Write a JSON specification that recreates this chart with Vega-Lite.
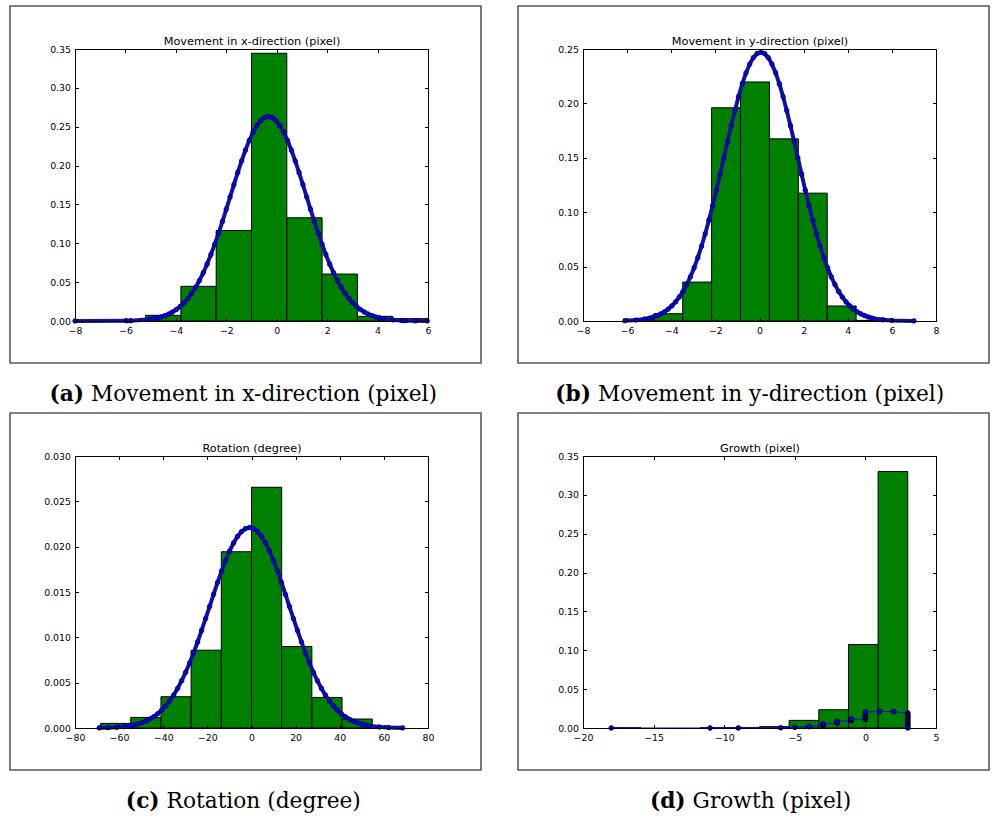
{
  "$schema": "https://vega.github.io/schema/vega-lite/v6.json",
  "background": "white",
  "padding": {"left": 9, "top": 5, "right": 0, "bottom": 0},
  "spacing": 6,
  "datasets": {
    "histA": [
      {"x0": -8, "x1": -6.6, "h": 0.0002}, {"x0": -6.6, "x1": -5.2, "h": 0.0017}, {"x0": -5.2, "x1": -3.8, "h": 0.0073},
      {"x0": -3.8, "x1": -2.4, "h": 0.0446}, {"x0": -2.4, "x1": -1.0, "h": 0.1165}, {"x0": -1.0, "x1": 0.4, "h": 0.3445},
      {"x0": 0.4, "x1": 1.8, "h": 0.1328}, {"x0": 1.8, "x1": 3.2, "h": 0.0604}, {"x0": 3.2, "x1": 4.6, "h": 0.006},
      {"x0": 4.6, "x1": 6.0, "h": 0.003}
    ],
    "curveA": [
      {"x": -8, "y": 0}, {"x": -5.96, "y": 0.0003}, {"x": -5.79, "y": 0.0004}, {"x": -5.05, "y": 0.0021},
      {"x": -4.89, "y": 0.0029}, {"x": -4.738, "y": 0.0039}, {"x": -4.586, "y": 0.0052}, {"x": -4.434, "y": 0.0069},
      {"x": -4.282, "y": 0.009}, {"x": -4.13, "y": 0.0116}, {"x": -3.978, "y": 0.0148}, {"x": -3.826, "y": 0.0187},
      {"x": -3.674, "y": 0.0234}, {"x": -3.522, "y": 0.029}, {"x": -3.37, "y": 0.0356}, {"x": -3.218, "y": 0.0433},
      {"x": -3.066, "y": 0.052}, {"x": -2.914, "y": 0.062}, {"x": -2.762, "y": 0.0731}, {"x": -2.61, "y": 0.0854},
      {"x": -2.458, "y": 0.0987}, {"x": -2.306, "y": 0.113}, {"x": -2.154, "y": 0.128}, {"x": -2.002, "y": 0.1436},
      {"x": -1.85, "y": 0.1595}, {"x": -1.698, "y": 0.1754}, {"x": -1.546, "y": 0.191}, {"x": -1.394, "y": 0.2059},
      {"x": -1.242, "y": 0.2197}, {"x": -1.09, "y": 0.2321}, {"x": -0.938, "y": 0.2428}, {"x": -0.786, "y": 0.2514},
      {"x": -0.634, "y": 0.2578}, {"x": -0.482, "y": 0.2617}, {"x": -0.33, "y": 0.263}, {"x": -0.178, "y": 0.2617},
      {"x": -0.026, "y": 0.2578}, {"x": 0.126, "y": 0.2514}, {"x": 0.278, "y": 0.2428}, {"x": 0.43, "y": 0.2321},
      {"x": 0.582, "y": 0.2197}, {"x": 0.734, "y": 0.2059}, {"x": 0.886, "y": 0.191}, {"x": 1.038, "y": 0.1754},
      {"x": 1.19, "y": 0.1595}, {"x": 1.342, "y": 0.1436}, {"x": 1.494, "y": 0.128}, {"x": 1.646, "y": 0.113},
      {"x": 1.798, "y": 0.0987}, {"x": 1.95, "y": 0.0854}, {"x": 2.102, "y": 0.0731}, {"x": 2.254, "y": 0.062},
      {"x": 2.406, "y": 0.052}, {"x": 2.558, "y": 0.0433}, {"x": 2.71, "y": 0.0356}, {"x": 2.862, "y": 0.029},
      {"x": 3.014, "y": 0.0234}, {"x": 3.166, "y": 0.0187}, {"x": 3.318, "y": 0.0148}, {"x": 3.47, "y": 0.0116},
      {"x": 3.622, "y": 0.009}, {"x": 3.774, "y": 0.0069}, {"x": 3.926, "y": 0.0052}, {"x": 4.078, "y": 0.0039},
      {"x": 4.23, "y": 0.0029}, {"x": 4.6, "y": 0.0014}, {"x": 4.97, "y": 0.0006}, {"x": 5.1, "y": 0.00045},
      {"x": 5.5, "y": 0.00017}, {"x": 5.97, "y": 0.00005}
    ],
    "histB": [
      {"x0": -6.1, "x1": -4.79, "h": 0.0012}, {"x0": -4.79, "x1": -3.48, "h": 0.0067}, {"x0": -3.48, "x1": -2.17, "h": 0.0358},
      {"x0": -2.17, "x1": -0.86, "h": 0.196}, {"x0": -0.86, "x1": 0.45, "h": 0.2197}, {"x0": 0.45, "x1": 1.76, "h": 0.1674},
      {"x0": 1.76, "x1": 3.07, "h": 0.1175}, {"x0": 3.07, "x1": 4.38, "h": 0.0138}, {"x0": 4.38, "x1": 5.69, "h": 0.0006},
      {"x0": 5.69, "x1": 7.0, "h": 0.0003}
    ],
    "curveB": [
      {"x": -6.1, "y": 0.0003}, {"x": -5.6, "y": 0.00084}, {"x": -5.2, "y": 0.0018},
      {"x": -4.98, "y": 0.0027}, {"x": -4.812, "y": 0.0037}, {"x": -4.644, "y": 0.0049}, {"x": -4.476, "y": 0.0065},
      {"x": -4.308, "y": 0.0084}, {"x": -4.14, "y": 0.0109}, {"x": -3.972, "y": 0.0139}, {"x": -3.804, "y": 0.0175},
      {"x": -3.636, "y": 0.022}, {"x": -3.468, "y": 0.0272}, {"x": -3.3, "y": 0.0334}, {"x": -3.132, "y": 0.0406},
      {"x": -2.964, "y": 0.0489}, {"x": -2.796, "y": 0.0582}, {"x": -2.628, "y": 0.0687}, {"x": -2.46, "y": 0.0802},
      {"x": -2.292, "y": 0.0927}, {"x": -2.124, "y": 0.1061}, {"x": -1.956, "y": 0.1202}, {"x": -1.788, "y": 0.1349},
      {"x": -1.62, "y": 0.1498}, {"x": -1.452, "y": 0.1647}, {"x": -1.284, "y": 0.1794}, {"x": -1.116, "y": 0.1933},
      {"x": -0.948, "y": 0.2063}, {"x": -0.78, "y": 0.218}, {"x": -0.612, "y": 0.228}, {"x": -0.444, "y": 0.2361},
      {"x": -0.276, "y": 0.2421}, {"x": -0.108, "y": 0.2458}, {"x": 0.06, "y": 0.247}, {"x": 0.228, "y": 0.2458},
      {"x": 0.396, "y": 0.2421}, {"x": 0.564, "y": 0.2361}, {"x": 0.732, "y": 0.228}, {"x": 0.9, "y": 0.218},
      {"x": 1.068, "y": 0.2063}, {"x": 1.236, "y": 0.1933}, {"x": 1.404, "y": 0.1794}, {"x": 1.572, "y": 0.1647},
      {"x": 1.74, "y": 0.1498}, {"x": 1.908, "y": 0.1349}, {"x": 2.076, "y": 0.1202}, {"x": 2.244, "y": 0.1061},
      {"x": 2.412, "y": 0.0927}, {"x": 2.58, "y": 0.0802}, {"x": 2.748, "y": 0.0687}, {"x": 2.916, "y": 0.0582},
      {"x": 3.084, "y": 0.0489}, {"x": 3.252, "y": 0.0406}, {"x": 3.42, "y": 0.0334}, {"x": 3.588, "y": 0.0272},
      {"x": 3.756, "y": 0.022}, {"x": 3.924, "y": 0.0175}, {"x": 4.092, "y": 0.0139}, {"x": 4.26, "y": 0.0109},
      {"x": 4.428, "y": 0.0084}, {"x": 4.596, "y": 0.0065}, {"x": 4.764, "y": 0.0049}, {"x": 4.932, "y": 0.0037},
      {"x": 5.1, "y": 0.0027}, {"x": 5.6, "y": 0.0011}, {"x": 6.0, "y": 0.00048}, {"x": 7.0, "y": 0.00005}
    ],
    "histC": [
      {"x0": -68.4, "x1": -54.72, "h": 0.00051}, {"x0": -54.72, "x1": -41.04, "h": 0.00117}, {"x0": -41.04, "x1": -27.36, "h": 0.00345},
      {"x0": -27.36, "x1": -13.68, "h": 0.00858}, {"x0": -13.68, "x1": 0, "h": 0.01944}, {"x0": 0, "x1": 13.68, "h": 0.02655},
      {"x0": 13.68, "x1": 27.36, "h": 0.00899}, {"x0": 27.36, "x1": 41.04, "h": 0.00337}, {"x0": 41.04, "x1": 54.72, "h": 0.00099},
      {"x0": 54.72, "x1": 68.4, "h": 0.00018}
    ],
    "curveC": [
      {"x": -69, "y": 0.00002}, {"x": -65, "y": 0.00004}, {"x": -61, "y": 0.00009}, {"x": -58, "y": 0.00015},
      {"x": -55.2, "y": 0.00025}, {"x": -53.39, "y": 0.00033}, {"x": -51.58, "y": 0.00044}, {"x": -49.77, "y": 0.00058},
      {"x": -47.96, "y": 0.00075}, {"x": -46.15, "y": 0.00097}, {"x": -44.34, "y": 0.00124}, {"x": -42.53, "y": 0.00157},
      {"x": -40.72, "y": 0.00197}, {"x": -38.91, "y": 0.00244}, {"x": -37.1, "y": 0.00299}, {"x": -35.29, "y": 0.00363},
      {"x": -33.48, "y": 0.00437}, {"x": -31.67, "y": 0.00521}, {"x": -29.86, "y": 0.00614}, {"x": -28.05, "y": 0.00717},
      {"x": -26.24, "y": 0.00829}, {"x": -24.43, "y": 0.00949}, {"x": -22.62, "y": 0.01076}, {"x": -20.81, "y": 0.01207},
      {"x": -19.0, "y": 0.0134}, {"x": -17.19, "y": 0.01474}, {"x": -15.38, "y": 0.01605}, {"x": -13.57, "y": 0.0173},
      {"x": -11.76, "y": 0.01846}, {"x": -9.95, "y": 0.0195}, {"x": -8.14, "y": 0.0204}, {"x": -6.33, "y": 0.02113},
      {"x": -4.52, "y": 0.02166}, {"x": -2.71, "y": 0.02199}, {"x": -0.9, "y": 0.0221}, {"x": 0.91, "y": 0.02199},
      {"x": 2.72, "y": 0.02166}, {"x": 4.53, "y": 0.02113}, {"x": 6.34, "y": 0.0204}, {"x": 8.15, "y": 0.0195},
      {"x": 9.96, "y": 0.01846}, {"x": 11.77, "y": 0.0173}, {"x": 13.58, "y": 0.01605}, {"x": 15.39, "y": 0.01474},
      {"x": 17.2, "y": 0.0134}, {"x": 19.01, "y": 0.01207}, {"x": 20.82, "y": 0.01076}, {"x": 22.63, "y": 0.00949},
      {"x": 24.44, "y": 0.00829}, {"x": 26.25, "y": 0.00717}, {"x": 28.06, "y": 0.00614}, {"x": 29.87, "y": 0.00521},
      {"x": 31.68, "y": 0.00437}, {"x": 33.49, "y": 0.00363}, {"x": 35.3, "y": 0.00299}, {"x": 37.11, "y": 0.00244},
      {"x": 38.92, "y": 0.00197}, {"x": 40.73, "y": 0.00157}, {"x": 42.54, "y": 0.00124}, {"x": 44.35, "y": 0.00097},
      {"x": 46.16, "y": 0.00075}, {"x": 47.97, "y": 0.00058}, {"x": 49.78, "y": 0.00044}, {"x": 51.59, "y": 0.00033},
      {"x": 53.4, "y": 0.00025}, {"x": 58, "y": 0.00011}, {"x": 62, "y": 0.00005}, {"x": 68.5, "y": 0.00001}
    ],
    "histD": [
      {"x0": -18, "x1": -15.9, "h": 0.0002}, {"x0": -11.7, "x1": -9.6, "h": 0.0002}, {"x0": -9.6, "x1": -7.5, "h": 0.0002},
      {"x0": -7.5, "x1": -5.4, "h": 0.0017}, {"x0": -5.4, "x1": -3.3, "h": 0.0098}, {"x0": -3.3, "x1": -1.2, "h": 0.0235},
      {"x0": -1.2, "x1": 0.9, "h": 0.1074}, {"x0": 0.9, "x1": 3.0, "h": 0.33}
    ],
    "curveD": [
      {"x": -18, "y": 0}, {"x": -11, "y": 0}, {"x": -9, "y": 0}, {"x": -6, "y": 0.0003}, {"x": -5, "y": 0.0009},
      {"x": -4, "y": 0.0018}, {"x": -4, "y": 0.0021},
      {"x": -3, "y": 0.0035}, {"x": -3, "y": 0.0042}, {"x": -3, "y": 0.0048}, {"x": -3, "y": 0.0052},
      {"x": -2, "y": 0.0062}, {"x": -2, "y": 0.007}, {"x": -2, "y": 0.0078}, {"x": -2, "y": 0.0086},
      {"x": -1, "y": 0.0095}, {"x": -1, "y": 0.0102}, {"x": -1, "y": 0.011}, {"x": -1, "y": 0.0116},
      {"x": 0, "y": 0.0108}, {"x": 0, "y": 0.012}, {"x": 0, "y": 0.0132}, {"x": 0, "y": 0.0144}, {"x": 0, "y": 0.0156},
      {"x": 0, "y": 0.0168}, {"x": 0, "y": 0.018}, {"x": 0, "y": 0.0192}, {"x": 0, "y": 0.0206},
      {"x": 1, "y": 0.0214}, {"x": 2, "y": 0.021},
      {"x": 3, "y": 0.0193}, {"x": 3, "y": 0.018}, {"x": 3, "y": 0.0165}, {"x": 3, "y": 0.015}, {"x": 3, "y": 0.0135},
      {"x": 3, "y": 0.012}, {"x": 3, "y": 0.0105}, {"x": 3, "y": 0.009}, {"x": 3, "y": 0.0075}, {"x": 3, "y": 0.006},
      {"x": 3, "y": 0.0045}, {"x": 3, "y": 0.003}, {"x": 3, "y": 0.0015}, {"x": 3, "y": 0}
    ]
  },
  "vconcat": [
    {
      "spacing": 35,
      "hconcat": [
        {
          "width": 471, "height": 357,
          "resolve": {"axis": {"x": "independent", "y": "independent"}},
          "layer": [
            {"data": {"name": "histA"}, "mark": {"type": "rect", "fill": "#008000", "stroke": "#000000", "strokeWidth": 1},
             "encoding": {
               "x": {"field": "x0", "type": "quantitative", "scale": {"domain": [-8, 6], "range": [65, 418], "nice": false, "zero": false},
                     "axis": {"orient": "bottom", "offset": -42, "values": [-8, -6, -4, -2, 0, 2, 4, 6], "format": "d", "title": null, "zindex": 1}},
               "x2": {"field": "x1"},
               "y": {"field": "h", "type": "quantitative", "scale": {"domain": [0, 0.35], "range": [315, 43], "nice": false, "zero": false},
                     "axis": {"orient": "left", "offset": -65, "values": [0, 0.05, 0.1, 0.15, 0.2, 0.25, 0.3, 0.35], "format": ".2f", "title": null, "zindex": 1}},
               "y2": {"datum": 0}
             }},
            {"data": {"name": "curveA"}, "mark": {"type": "line", "color": "#1a1a78", "strokeWidth": 4},
             "encoding": {
               "x": {"field": "x", "type": "quantitative", "scale": {"domain": [-8, 6], "range": [65, 418], "nice": false, "zero": false},
                     "axis": {"orient": "top", "offset": -43, "values": [-8, -6, -4, -2, 0, 2, 4, 6], "labels": false, "zindex": 1,
                              "title": "Movement in x-direction (pixel)", "titleX": 241.5, "titleY": -5, "titleAlign": "center", "titleBaseline": "alphabetic"}},
               "y": {"field": "y", "type": "quantitative", "scale": {"domain": [0, 0.35], "range": [315, 43], "nice": false, "zero": false},
                     "axis": {"orient": "right", "offset": -53, "values": [0, 0.05, 0.1, 0.15, 0.2, 0.25, 0.3, 0.35], "labels": false, "title": null, "zindex": 1}}
             }},
            {"data": {"name": "curveA"}, "mark": {"type": "line", "color": "#0000ff", "strokeWidth": 1},
             "encoding": {
               "x": {"field": "x", "type": "quantitative", "scale": {"domain": [-8, 6], "range": [65, 418], "nice": false, "zero": false}, "axis": null},
               "y": {"field": "y", "type": "quantitative", "scale": {"domain": [0, 0.35], "range": [315, 43], "nice": false, "zero": false}, "axis": null}
             }},
            {"data": {"name": "curveA"}, "mark": {"type": "circle", "fill": "#0000ff", "stroke": "#000000", "strokeWidth": 0.6, "size": 22, "opacity": 1},
             "encoding": {
               "x": {"field": "x", "type": "quantitative", "scale": {"domain": [-8, 6], "range": [65, 418], "nice": false, "zero": false},
                     "axis": {"orient": "bottom", "offset": 0, "domain": false, "ticks": false, "labels": false,
                              "title": "Movement in x-direction (pixel)", "titleFont": "DejaVu Serif", "titleFontSize": 21.7,
                              "titleX": 80.6, "titleY": 37.5, "titleAlign": "left", "titleBaseline": "alphabetic"}},
               "y": {"field": "y", "type": "quantitative", "scale": {"domain": [0, 0.35], "range": [315, 43], "nice": false, "zero": false},
                     "axis": {"orient": "left", "offset": 0, "domain": false, "ticks": false, "labels": false,
                              "title": "(a)", "titleFont": "DejaVu Serif", "titleFontSize": 21.7, "titleFontWeight": "bold", "titleAngle": 0,
                              "titleX": 73.6, "titleY": 394.5, "titleAlign": "right", "titleBaseline": "alphabetic"}}
             }}
          ]
        },
        {
          "width": 471, "height": 357,
          "resolve": {"axis": {"x": "independent", "y": "independent"}},
          "layer": [
            {"data": {"name": "histB"}, "mark": {"type": "rect", "fill": "#008000", "stroke": "#000000", "strokeWidth": 1},
             "encoding": {
               "x": {"field": "x0", "type": "quantitative", "scale": {"domain": [-8, 8], "range": [65, 418], "nice": false, "zero": false},
                     "axis": {"orient": "bottom", "offset": -42, "values": [-8, -6, -4, -2, 0, 2, 4, 6, 8], "format": "d", "title": null, "zindex": 1}},
               "x2": {"field": "x1"},
               "y": {"field": "h", "type": "quantitative", "scale": {"domain": [0, 0.25], "range": [315, 43], "nice": false, "zero": false},
                     "axis": {"orient": "left", "offset": -65, "values": [0, 0.05, 0.1, 0.15, 0.2, 0.25], "format": ".2f", "title": null, "zindex": 1}},
               "y2": {"datum": 0}
             }},
            {"data": {"name": "curveB"}, "mark": {"type": "line", "color": "#1a1a78", "strokeWidth": 4},
             "encoding": {
               "x": {"field": "x", "type": "quantitative", "scale": {"domain": [-8, 8], "range": [65, 418], "nice": false, "zero": false},
                     "axis": {"orient": "top", "offset": -43, "values": [-8, -6, -4, -2, 0, 2, 4, 6, 8], "labels": false, "zindex": 1,
                              "title": "Movement in y-direction (pixel)", "titleX": 241.5, "titleY": -5, "titleAlign": "center", "titleBaseline": "alphabetic"}},
               "y": {"field": "y", "type": "quantitative", "scale": {"domain": [0, 0.25], "range": [315, 43], "nice": false, "zero": false},
                     "axis": {"orient": "right", "offset": -53, "values": [0, 0.05, 0.1, 0.15, 0.2, 0.25], "labels": false, "title": null, "zindex": 1}}
             }},
            {"data": {"name": "curveB"}, "mark": {"type": "line", "color": "#0000ff", "strokeWidth": 1},
             "encoding": {
               "x": {"field": "x", "type": "quantitative", "scale": {"domain": [-8, 8], "range": [65, 418], "nice": false, "zero": false}, "axis": null},
               "y": {"field": "y", "type": "quantitative", "scale": {"domain": [0, 0.25], "range": [315, 43], "nice": false, "zero": false}, "axis": null}
             }},
            {"data": {"name": "curveB"}, "mark": {"type": "circle", "fill": "#0000ff", "stroke": "#000000", "strokeWidth": 0.6, "size": 22, "opacity": 1},
             "encoding": {
               "x": {"field": "x", "type": "quantitative", "scale": {"domain": [-8, 8], "range": [65, 418], "nice": false, "zero": false},
                     "axis": {"orient": "bottom", "offset": 0, "domain": false, "ticks": false, "labels": false,
                              "title": "Movement in y-direction (pixel)", "titleFont": "DejaVu Serif", "titleFontSize": 21.7,
                              "titleX": 79.5, "titleY": 37.5, "titleAlign": "left", "titleBaseline": "alphabetic"}},
               "y": {"field": "y", "type": "quantitative", "scale": {"domain": [0, 0.25], "range": [315, 43], "nice": false, "zero": false},
                     "axis": {"orient": "left", "offset": 0, "domain": false, "ticks": false, "labels": false,
                              "title": "(b)", "titleFont": "DejaVu Serif", "titleFontSize": 21.7, "titleFontWeight": "bold", "titleAngle": 0,
                              "titleX": 72.5, "titleY": 394.5, "titleAlign": "right", "titleBaseline": "alphabetic"}}
             }}
          ]
        }
      ]
    },
    {
      "spacing": 35,
      "hconcat": [
        {
          "width": 471, "height": 357,
          "resolve": {"axis": {"x": "independent", "y": "independent"}},
          "layer": [
            {"data": {"name": "histC"}, "mark": {"type": "rect", "fill": "#008000", "stroke": "#000000", "strokeWidth": 1},
             "encoding": {
               "x": {"field": "x0", "type": "quantitative", "scale": {"domain": [-80, 80], "range": [65, 418], "nice": false, "zero": false},
                     "axis": {"orient": "bottom", "offset": -42, "values": [-80, -60, -40, -20, 0, 20, 40, 60, 80], "format": "d", "title": null, "zindex": 1}},
               "x2": {"field": "x1"},
               "y": {"field": "h", "type": "quantitative", "scale": {"domain": [0, 0.03], "range": [315, 43], "nice": false, "zero": false},
                     "axis": {"orient": "left", "offset": -65, "values": [0, 0.005, 0.01, 0.015, 0.02, 0.025, 0.03], "format": ".3f", "title": null, "zindex": 1}},
               "y2": {"datum": 0}
             }},
            {"data": {"name": "curveC"}, "mark": {"type": "line", "color": "#1a1a78", "strokeWidth": 4},
             "encoding": {
               "x": {"field": "x", "type": "quantitative", "scale": {"domain": [-80, 80], "range": [65, 418], "nice": false, "zero": false},
                     "axis": {"orient": "top", "offset": -43, "values": [-80, -60, -40, -20, 0, 20, 40, 60, 80], "labels": false, "zindex": 1,
                              "title": "Rotation (degree)", "titleX": 241.5, "titleY": -5, "titleAlign": "center", "titleBaseline": "alphabetic"}},
               "y": {"field": "y", "type": "quantitative", "scale": {"domain": [0, 0.03], "range": [315, 43], "nice": false, "zero": false},
                     "axis": {"orient": "right", "offset": -53, "values": [0, 0.005, 0.01, 0.015, 0.02, 0.025, 0.03], "labels": false, "title": null, "zindex": 1}}
             }},
            {"data": {"name": "curveC"}, "mark": {"type": "line", "color": "#0000ff", "strokeWidth": 1},
             "encoding": {
               "x": {"field": "x", "type": "quantitative", "scale": {"domain": [-80, 80], "range": [65, 418], "nice": false, "zero": false}, "axis": null},
               "y": {"field": "y", "type": "quantitative", "scale": {"domain": [0, 0.03], "range": [315, 43], "nice": false, "zero": false}, "axis": null}
             }},
            {"data": {"name": "curveC"}, "mark": {"type": "circle", "fill": "#0000ff", "stroke": "#000000", "strokeWidth": 0.6, "size": 22, "opacity": 1},
             "encoding": {
               "x": {"field": "x", "type": "quantitative", "scale": {"domain": [-80, 80], "range": [65, 418], "nice": false, "zero": false},
                     "axis": {"orient": "bottom", "offset": 0, "domain": false, "ticks": false, "labels": false,
                              "title": "Rotation (degree)", "titleFont": "DejaVu Serif", "titleFontSize": 21.7,
                              "titleX": 156.1, "titleY": 37.5, "titleAlign": "left", "titleBaseline": "alphabetic"}},
               "y": {"field": "y", "type": "quantitative", "scale": {"domain": [0, 0.03], "range": [315, 43], "nice": false, "zero": false},
                     "axis": {"orient": "left", "offset": 0, "domain": false, "ticks": false, "labels": false,
                              "title": "(c)", "titleFont": "DejaVu Serif", "titleFontSize": 21.7, "titleFontWeight": "bold", "titleAngle": 0,
                              "titleX": 149.1, "titleY": 394.5, "titleAlign": "right", "titleBaseline": "alphabetic"}}
             }}
          ]
        },
        {
          "width": 471, "height": 357,
          "resolve": {"axis": {"x": "independent", "y": "independent"}},
          "layer": [
            {"data": {"name": "histD"}, "mark": {"type": "rect", "fill": "#008000", "stroke": "#000000", "strokeWidth": 1},
             "encoding": {
               "x": {"field": "x0", "type": "quantitative", "scale": {"domain": [-20, 5], "range": [65, 418], "nice": false, "zero": false},
                     "axis": {"orient": "bottom", "offset": -42, "values": [-20, -15, -10, -5, 0, 5], "format": "d", "title": null, "zindex": 1}},
               "x2": {"field": "x1"},
               "y": {"field": "h", "type": "quantitative", "scale": {"domain": [0, 0.35], "range": [315, 43], "nice": false, "zero": false},
                     "axis": {"orient": "left", "offset": -65, "values": [0, 0.05, 0.1, 0.15, 0.2, 0.25, 0.3, 0.35], "format": ".2f", "title": null, "zindex": 1}},
               "y2": {"datum": 0}
             }},
            {"data": {"name": "curveD"}, "mark": {"type": "line", "color": "#0000ff", "strokeWidth": 1},
             "encoding": {
               "x": {"field": "x", "type": "quantitative", "scale": {"domain": [-20, 5], "range": [65, 418], "nice": false, "zero": false},
                     "axis": {"orient": "top", "offset": -43, "values": [-20, -15, -10, -5, 0, 5], "labels": false, "zindex": 1,
                              "title": "Growth (pixel)", "titleX": 241.5, "titleY": -5, "titleAlign": "center", "titleBaseline": "alphabetic"}},
               "y": {"field": "y", "type": "quantitative", "scale": {"domain": [0, 0.35], "range": [315, 43], "nice": false, "zero": false},
                     "axis": {"orient": "right", "offset": -53, "values": [0, 0.05, 0.1, 0.15, 0.2, 0.25, 0.3, 0.35], "labels": false, "title": null, "zindex": 1}}
             }},
            {"data": {"name": "curveD"}, "mark": {"type": "circle", "fill": "#0000ff", "stroke": "#000000", "strokeWidth": 0.9, "size": 22, "opacity": 1},
             "encoding": {
               "x": {"field": "x", "type": "quantitative", "scale": {"domain": [-20, 5], "range": [65, 418], "nice": false, "zero": false},
                     "axis": {"orient": "bottom", "offset": 0, "domain": false, "ticks": false, "labels": false,
                              "title": "Growth (pixel)", "titleFont": "DejaVu Serif", "titleFontSize": 21.7,
                              "titleX": 174.1, "titleY": 37.5, "titleAlign": "left", "titleBaseline": "alphabetic"}},
               "y": {"field": "y", "type": "quantitative", "scale": {"domain": [0, 0.35], "range": [315, 43], "nice": false, "zero": false},
                     "axis": {"orient": "left", "offset": 0, "domain": false, "ticks": false, "labels": false,
                              "title": "(d)", "titleFont": "DejaVu Serif", "titleFontSize": 21.7, "titleFontWeight": "bold", "titleAngle": 0,
                              "titleX": 167.1, "titleY": 394.5, "titleAlign": "right", "titleBaseline": "alphabetic"}}
             }}
          ]
        }
      ]
    }
  ],
  "config": {
    "view": {"stroke": "#5a5a5a", "strokeWidth": 1.6},
    "axis": {
      "grid": false, "domainColor": "#000000", "domainWidth": 1, "tickColor": "#000000", "tickWidth": 1, "tickSize": -3.5,
      "labelFont": "DejaVu Sans", "labelFontSize": 9.4, "labelColor": "#000000", "labelFlush": false, "labelOverlap": false,
      "minExtent": 0, "titleFont": "DejaVu Sans", "titleFontSize": 11.3, "titleFontWeight": "normal", "titleColor": "#000000", "titlePadding": 0
    },
    "axisX": {"labelPadding": 8.8},
    "axisY": {"labelPadding": 8}
  }
}
